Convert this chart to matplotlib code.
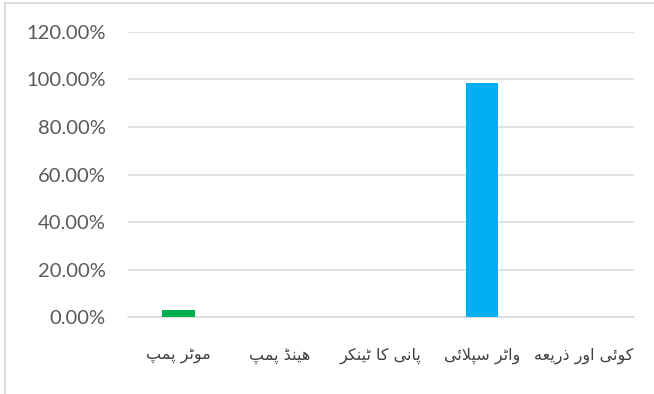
import matplotlib.pyplot as plt
from matplotlib.lines import Line2D
from matplotlib.ticker import FuncFormatter

# water source categories (Urdu) and their shares
sources = ["موٹر پمپ", "ہینڈ پمپ", "پانی کا ٹینکر", "واٹر سپلائی", "کوئی اور ذریعہ"]
shares = [0.03, 0.0, 0.0, 0.985, 0.0]
bar_colors = ["#00B050", "#00B050", "#00B050", "#00B0F0", "#00B0F0"]
yticks = [0.0, 0.2, 0.4, 0.6, 0.8, 1.0, 1.2]

# contextual forms: isolated, final, initial, medial
# (heh goal falls back to plain heh forms, DejaVu lacks some of its own)
FORMS = {
    "ا": (0xFE8D, 0xFE8E, None, None),
    "و": (0xFEED, 0xFEEE, None, None),
    "ر": (0xFEAD, 0xFEAE, None, None),
    "ذ": (0xFEAB, 0xFEAC, None, None),
    "ڈ": (0xFB88, 0xFB89, None, None),
    "ٹ": (0xFB66, 0xFB67, 0xFB68, 0xFB69),
    "پ": (0xFB56, 0xFB57, 0xFB58, 0xFB59),
    "م": (0xFEE1, 0xFEE2, 0xFEE3, 0xFEE4),
    "ن": (0xFEE5, 0xFEE6, 0xFEE7, 0xFEE8),
    "ی": (0xFBFC, 0xFBFD, 0xFBFE, 0xFBFF),
    "ک": (0xFB8E, 0xFB8F, 0xFB90, 0xFB91),
    "س": (0xFEB1, 0xFEB2, 0xFEB3, 0xFEB4),
    "ل": (0xFEDD, 0xFEDE, 0xFEDF, 0xFEE0),
    "ئ": (0xFE89, 0xFE8A, 0xFE8B, 0xFE8C),
    "ع": (0xFEC9, 0xFECA, 0xFECB, 0xFECC),
    "ہ": (0xFEE9, 0xFEEA, 0xFEEB, 0xFEEC),
}


def joins_next(ch):
    return ch in FORMS and FORMS[ch][2] is not None


def shape(text):
    # join letters, handle lam-alef, then reverse for left-to-right drawing
    out = []
    i = 0
    while i < len(text):
        ch = text[i]
        if ch not in FORMS:
            out.append(ch)
            i += 1
            continue
        prev = text[i - 1] if i > 0 else ""
        after_join = joins_next(prev)
        if ch == "ل" and i + 1 < len(text) and text[i + 1] == "ا":
            out.append(chr(0xFEFC if after_join else 0xFEFB))
            i += 2
            continue
        nxt = text[i + 1] if i + 1 < len(text) else ""
        before_join = joins_next(ch) and nxt in FORMS
        iso, fin, ini, med = FORMS[ch]
        if after_join and before_join:
            code = med
        elif after_join:
            code = fin
        elif before_join:
            code = ini
        else:
            code = iso
        out.append(chr(code))
        i += 1
    return "".join(reversed(out))


fig = plt.figure(figsize=(6.54, 3.94), dpi=100)
ax = fig.add_axes([0.1957, 0.1954, 0.7737, 0.7234])

x = range(len(sources))
ax.bar(x, shares, width=0.32, color=bar_colors, zorder=3)

ax.set_ylim(0, 1.2)
ax.set_xlim(-0.5, len(sources) - 0.5)
ax.set_yticks(yticks)
ax.yaxis.set_major_formatter(FuncFormatter(lambda v, p: f"{v * 100:.2f}%"))
ax.grid(axis="y", color="#d9d9d9", linewidth=1.1, zorder=0)
for s in ["top", "right", "left"]:
    ax.spines[s].set_visible(False)
ax.spines["bottom"].set_color("#d9d9d9")
ax.spines["bottom"].set_linewidth(1.1)

ax.set_xticks(list(x))
ax.set_xticklabels([shape(s) for s in sources], fontsize=11.5,
                   color="#404040", family="DejaVu Sans")
ax.tick_params(axis="x", length=0, pad=22)
ax.tick_params(axis="y", length=0, pad=16, labelsize=14.5, labelcolor="#595959")
for lab in ax.get_yticklabels():
    lab.set_family("Lato")

# light frame along the top and left
fig.add_artist(Line2D([4.5 / 654, 4.5 / 654], [0, 1 - 2.5 / 394],
                      color="#d9d9d9", linewidth=1.3, transform=fig.transFigure))
fig.add_artist(Line2D([4.5 / 654, 1], [1 - 2.5 / 394, 1 - 2.5 / 394],
                      color="#d9d9d9", linewidth=1.3, transform=fig.transFigure))

fig.savefig("out.png", dpi=100)
